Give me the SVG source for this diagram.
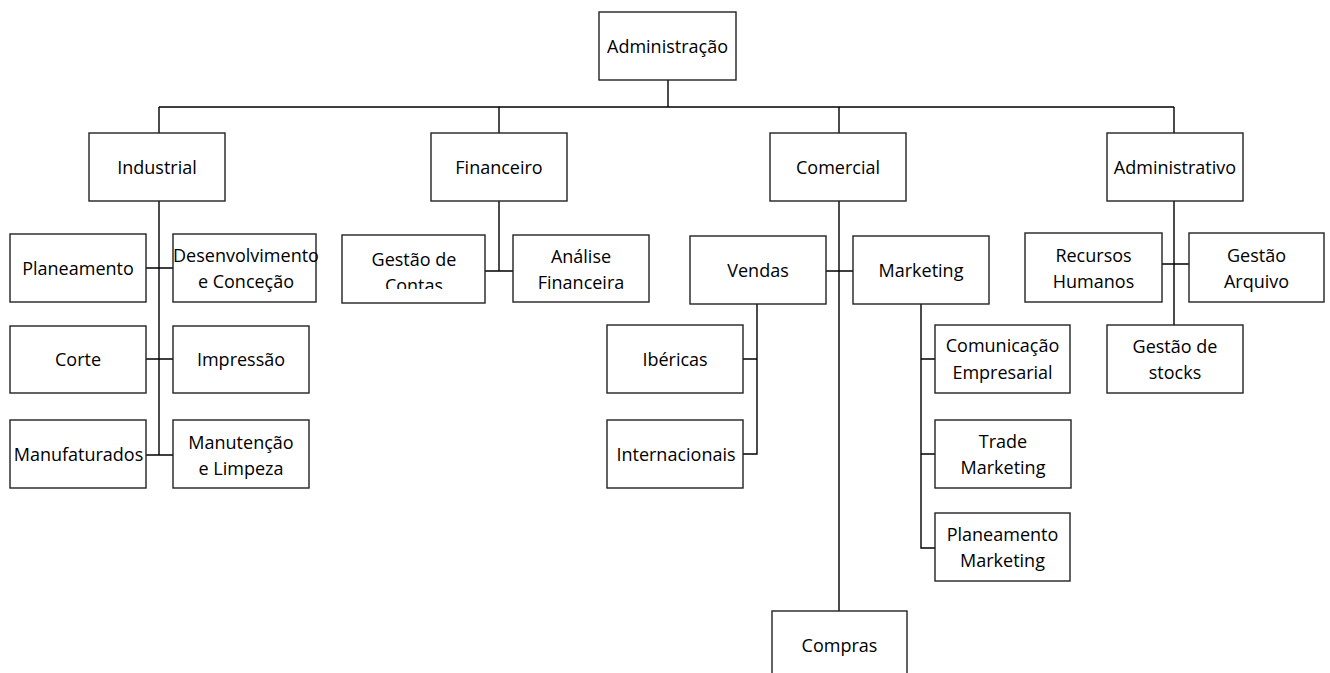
<svg xmlns="http://www.w3.org/2000/svg" width="1330" height="673" viewBox="0 0 1330 673">
<style>
.box{fill:#fff;stroke:#222;stroke-width:1.4}
.lbl{font-family:"Open Sans","Liberation Sans",sans-serif;font-size:18px;fill:#000;text-anchor:middle}
.conn{fill:none;stroke:#000;stroke-width:1.4}
</style>
<defs>
<clipPath id="clipContas"><rect x="342" y="235" width="143" height="54"/></clipPath>
</defs>
<rect width="1330" height="673" fill="#fff"/>
<g id="connectors">
<path class="conn" d="M668 80V107M159 107H1174M159 107V133M499 107V133M839 107V133M1174 107V133"/>
<path class="conn" d="M159 201V455M146 268H173M146 359H173M146 455H173"/>
<path class="conn" d="M499 201V271M485 271H513"/>
<path class="conn" d="M839 201V611M826 271H853"/>
<path class="conn" d="M757 304V454H743M743 359H757"/>
<path class="conn" d="M921 304V548H935M921 359H935M921 454H935"/>
<path class="conn" d="M1174 201V325M1162 264H1189"/>
</g>
<g id="n-administracao"><rect class="box" x="599" y="12" width="137" height="68"/><text class="lbl" x="667.5" y="53">Administração</text></g>
<g id="n-industrial"><rect class="box" x="89" y="133" width="136" height="68"/><text class="lbl" x="157" y="174">Industrial</text></g>
<g id="n-financeiro"><rect class="box" x="431" y="133" width="136" height="68"/><text class="lbl" x="499" y="174">Financeiro</text></g>
<g id="n-comercial"><rect class="box" x="770" y="133" width="136" height="68"/><text class="lbl" x="838" y="174">Comercial</text></g>
<g id="n-administrativo"><rect class="box" x="1107" y="133" width="136" height="68"/><text class="lbl" x="1175" y="174">Administrativo</text></g>
<g id="n-planeamento"><rect class="box" x="10" y="234" width="136" height="68"/><text class="lbl" x="78" y="275">Planeamento</text></g>
<g id="n-desenvolvimento"><rect class="box" x="173" y="234" width="143" height="68"/><text class="lbl" x="246" y="262">Desenvolvimento</text><text class="lbl" x="246" y="288">e Conceção</text></g>
<g id="n-corte"><rect class="box" x="10" y="326" width="136" height="67"/><text class="lbl" x="78" y="366">Corte</text></g>
<g id="n-impressao"><rect class="box" x="173" y="326" width="136" height="67"/><text class="lbl" x="241" y="366">Impressão</text></g>
<g id="n-manufaturados"><rect class="box" x="10" y="420" width="136" height="68"/><text class="lbl" x="78.5" y="461">Manufaturados</text></g>
<g id="n-manutencao"><rect class="box" x="173" y="420" width="136" height="68"/><text class="lbl" x="241" y="449">Manutenção</text><text class="lbl" x="241" y="475">e Limpeza</text></g>
<g id="n-gestao-contas"><rect class="box" x="342" y="235" width="143" height="68"/><g clip-path="url(#clipContas)"><text class="lbl" x="414" y="266">Gestão de</text><text class="lbl" x="414" y="292">Contas</text></g></g>
<g id="n-analise"><rect class="box" x="513" y="235" width="136" height="67"/><text class="lbl" x="581" y="263">Análise</text><text class="lbl" x="581" y="289">Financeira</text></g>
<g id="n-vendas"><rect class="box" x="690" y="236" width="136" height="68"/><text class="lbl" x="758" y="277">Vendas</text></g>
<g id="n-marketing"><rect class="box" x="853" y="236" width="136" height="68"/><text class="lbl" x="921" y="277">Marketing</text></g>
<g id="n-ibericas"><rect class="box" x="607" y="325" width="136" height="68"/><text class="lbl" x="675" y="366">Ibéricas</text></g>
<g id="n-internacionais"><rect class="box" x="607" y="420" width="136" height="68"/><text class="lbl" x="676" y="461">Internacionais</text></g>
<g id="n-comunicacao"><rect class="box" x="935" y="325" width="135" height="68"/><text class="lbl" x="1002.5" y="352">Comunicação</text><text class="lbl" x="1002.5" y="379">Empresarial</text></g>
<g id="n-trade"><rect class="box" x="935" y="420" width="136" height="68"/><text class="lbl" x="1003" y="448">Trade</text><text class="lbl" x="1003" y="474">Marketing</text></g>
<g id="n-planeamento-mkt"><rect class="box" x="935" y="513" width="135" height="68"/><text class="lbl" x="1002.5" y="541">Planeamento</text><text class="lbl" x="1002.5" y="567">Marketing</text></g>
<g id="n-compras"><rect class="box" x="772" y="611" width="135" height="68"/><text class="lbl" x="839.5" y="652">Compras</text></g>
<g id="n-recursos"><rect class="box" x="1025" y="233" width="137" height="69"/><text class="lbl" x="1093.5" y="262">Recursos</text><text class="lbl" x="1093.5" y="288">Humanos</text></g>
<g id="n-arquivo"><rect class="box" x="1189" y="233" width="135" height="69"/><text class="lbl" x="1256.5" y="262">Gestão</text><text class="lbl" x="1256.5" y="288">Arquivo</text></g>
<g id="n-stocks"><rect class="box" x="1107" y="325" width="136" height="68"/><text class="lbl" x="1175" y="353">Gestão de</text><text class="lbl" x="1175" y="379">stocks</text></g>
</svg>
